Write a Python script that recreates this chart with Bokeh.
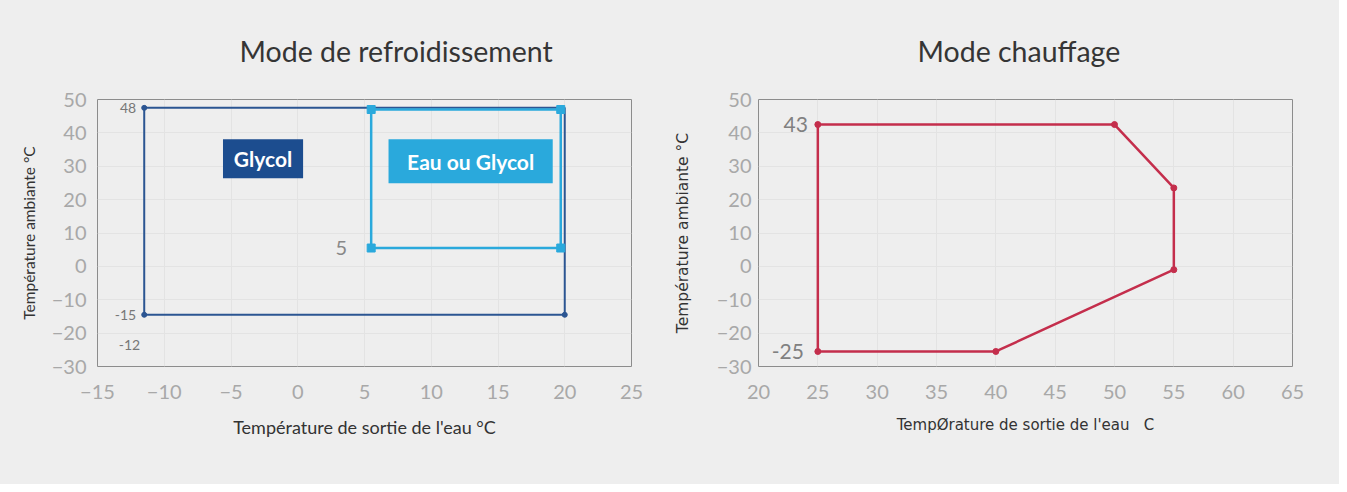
from bokeh.plotting import figure
from bokeh.layouts import row
from bokeh.models import Range1d, FixedTicker, Label
from bokeh.embed import file_html
from bokeh.resources import INLINE

# ---------------- data ----------------
cool_title = "Mode de refroidissement"
heat_title = "Mode chauffage"
cool_xlabel = "Température de sortie de l'eau °C"
heat_xlabel = "TempØrature de sortie de l'eau\u00a0\u00a0\u00a0C"
ylabel = "Température ambiante °C"

cool_xticks = [-15, -10, -5, 0, 5, 10, 15, 20, 25]
heat_xticks = [20, 25, 30, 35, 40, 45, 50, 55, 60, 65]
yticks = [-30, -20, -10, 0, 10, 20, 30, 40, 50]

# cooling: glycol envelope
glycol_x = [-11.5, 20.0, 20.0, -11.5, -11.5]
glycol_y = [47.5, 47.5, -14.5, -14.5, 47.5]
glycol_mx = [-11.5, -11.5, 20.0]
glycol_my = [47.5, -14.5, -14.5]
# cooling: water or glycol envelope
water_x = [5.5, 19.7, 19.7, 5.5, 5.5]
water_y = [47.0, 47.0, 5.5, 5.5, 47.0]
water_mx = [5.5, 19.7, 19.7, 5.5]
water_my = [47.0, 47.0, 5.5, 5.5]
# legend boxes inside the cooling chart: [left, right, bottom, top]
box_names = ["Glycol", "Eau ou Glycol"]
box_left = [-5.6, 6.8]
box_right = [0.4, 19.1]
box_bottom = [26.4, 24.9]
box_top = [38.1, 38.1]
# heating envelope
heat_x = [25, 50, 55, 55, 40, 25, 25]
heat_y = [42.5, 42.5, 23.5, -1.0, -25.5, -25.5, 42.5]

DARK = "#2b5592"
DARKBOX = "#1c4d8f"
CYAN = "#2aa9dc"
RED = "#c42e4c"
BG = "#eeeeee"


def make_fig(width, left, right, xr, xticks, title, toffset, xlabel, ylabel_text,
             xlab_font, ylab_font, xlab_size, ylab_size, ylab_standoff, ytick_standoff):
    p = figure(width=width, height=484, output_backend="svg", toolbar_location=None,
               x_range=Range1d(xr[0], xr[1]), y_range=Range1d(-30, 50),
               min_border_left=left, min_border_right=right,
               min_border_top=98, min_border_bottom=118,
               background_fill_color=BG, border_fill_color=BG)
    p.title.text = title
    p.title.align = "left"
    p.title.vertical_align = "bottom"
    p.title.offset = toffset
    p.title.standoff = 63
    p.title.text_font = "Lato"
    p.title.text_font_size = "28.5px"
    p.title.text_font_style = "normal"
    p.title.text_color = "#353535"
    p.outline_line_color = "#8c8c8c"
    p.outline_line_width = 1
    p.xaxis.ticker = FixedTicker(ticks=xticks)
    p.yaxis.ticker = FixedTicker(ticks=yticks)
    for ax in (p.xaxis[0], p.yaxis[0]):
        ax.axis_line_color = None
        ax.major_tick_line_color = None
        ax.minor_tick_line_color = None
        ax.major_tick_in = 0
        ax.major_tick_out = 0
        ax.major_label_text_font = "Lato"
        ax.major_label_text_font_size = "20px"
        ax.major_label_text_color = "#a8a8a8"
        ax.axis_label_text_font_style = "normal"
        ax.axis_label_text_color = "#333333"
    p.xaxis.major_label_standoff = 18
    p.yaxis.major_label_standoff = ytick_standoff
    p.xaxis.axis_label = xlabel
    p.xaxis.axis_label_text_font = xlab_font
    p.xaxis.axis_label_text_font_size = xlab_size
    p.xaxis.axis_label_standoff = 14
    p.yaxis.axis_label = ylabel_text
    p.yaxis.axis_label_text_font = ylab_font
    p.yaxis.axis_label_text_font_size = ylab_size
    p.yaxis.axis_label_standoff = ylab_standoff
    p.xgrid.grid_line_color = "#e3e3e3"
    p.ygrid.grid_line_color = "#e3e3e3"
    return p


# ---------------- cooling ----------------
p1 = make_fig(670, 97, 39, (-15, 25), cool_xticks, cool_title, 142, cool_xlabel, ylabel,
              "Lato", "Lato", "18px", "15.5px", 11, 11)
p1.line(glycol_x, glycol_y, line_color=DARK, line_width=2)
p1.scatter(glycol_mx, glycol_my, marker="circle", size=5, color=DARK)
p1.line(water_x, water_y, line_color=CYAN, line_width=2.5)
p1.scatter(water_mx, water_my, marker="square", size=8, color=CYAN)

p1.quad(left=box_left, right=box_right, bottom=box_bottom, top=box_top,
        fill_color=[DARKBOX, CYAN], line_color=None)
p1.text(x=[(l + r) / 2 for l, r in zip(box_left, box_right)],
        y=[(b + t) / 2 for b, t in zip(box_bottom, box_top)],
        text=box_names, text_align="center", text_baseline="middle",
        text_font={"value": "Lato"}, text_font_size="21px", text_font_style="bold",
        text_color="white")

p1.add_layout(Label(x=glycol_mx[0], y=glycol_my[0], text="48", text_align="right", text_baseline="middle",
                    x_offset=-8, text_font="Lato", text_font_size="14px", text_color="#777777"))
p1.add_layout(Label(x=glycol_mx[1], y=glycol_my[1], text="-15", text_align="right", text_baseline="middle",
                    x_offset=-8, text_font="Lato", text_font_size="14px", text_color="#777777"))
p1.add_layout(Label(x=glycol_mx[1], y=-23.7, text="-12", text_align="right", text_baseline="middle",
                    x_offset=-4, text_font="Lato", text_font_size="14px", text_color="#777777"))
p1.add_layout(Label(x=water_mx[3], y=water_my[3], text="5", text_align="right", text_baseline="middle",
                    x_offset=-24, text_font="Lato", text_font_size="20px", text_color="#888888"))

# ---------------- heating ----------------
p2 = make_fig(669, 88, 47, (20, 65), heat_xticks, heat_title, 159, heat_xlabel, ylabel,
              "DejaVu Sans", "DejaVu Sans", "15px", "15.5px", 22, 7)
p2.line(heat_x, heat_y, line_color=RED, line_width=2.5)
p2.scatter(heat_x[:-1], heat_y[:-1], marker="circle", size=6, color=RED)
p2.add_layout(Label(x=heat_x[0], y=heat_y[0], text="43", text_align="right", text_baseline="middle",
                    x_offset=-10, text_font="Lato", text_font_size="21px", text_color="#808080"))
p2.add_layout(Label(x=heat_x[5], y=heat_y[5], text="-25", text_align="right", text_baseline="middle",
                    x_offset=-14, text_font="Lato", text_font_size="21px", text_color="#808080"))

layout = row(p1, p2, styles={"background-color": BG})
open("out.html", "w").write(file_html(layout, INLINE))
